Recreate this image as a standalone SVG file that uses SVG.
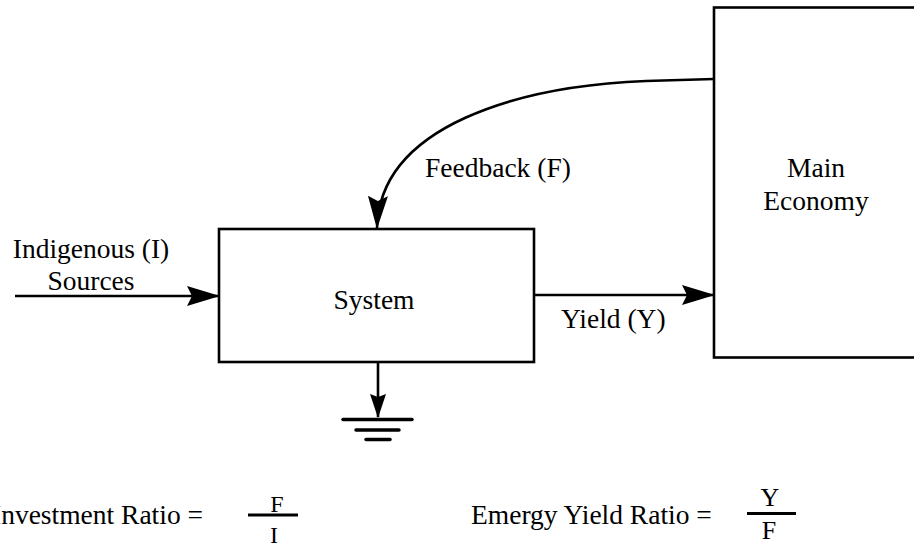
<svg xmlns="http://www.w3.org/2000/svg" width="914" height="546" viewBox="0 0 914 546">
<style>
  .box { fill: #fff; stroke: #000; stroke-width: 2.6; }
  .line { fill: none; stroke: #000; stroke-width: 2.6; }
  .lbl { font-family: "Liberation Serif", "Times New Roman", serif; font-size: 27.5px; fill: #000; }
  .mid { text-anchor: middle; }
  .bar { stroke: #000; stroke-width: 3.5; stroke-linecap: round; }
</style>
<defs>
  <marker id="ah" markerUnits="userSpaceOnUse" viewBox="0 0 33 20" markerWidth="33" markerHeight="20" refX="32" refY="10" orient="auto">
    <path d="M0,0 L33,10 L0,20 L5,10 Z" fill="#000"/>
  </marker>
  <marker id="ahs" markerUnits="userSpaceOnUse" viewBox="0 0 24 16" markerWidth="24" markerHeight="16" refX="23" refY="8" orient="auto">
    <path d="M0,0 L24,8 L0,16 L3,8 Z" fill="#000"/>
  </marker>
</defs>

<g id="connectors">
  <path id="c-indigenous" class="line" d="M15,296 L219,296" marker-end="url(#ah)"/>
  <path id="c-yield" class="line" d="M534,295 L714,295" marker-end="url(#ah)"/>
  <path id="c-feedback" class="line" d="M714,79 L646,81 C520,86 380,125 377,228" marker-end="url(#ah)"/>
  <path id="c-sink" class="line" d="M378,362 L378,417" marker-end="url(#ahs)"/>
</g>

<g id="system">
  <rect class="box" x="219" y="229" width="315" height="133"/>
  <text class="lbl mid" x="374" y="309">System</text>
</g>

<g id="main-economy">
  <rect class="box" x="714" y="7.5" width="220" height="350"/>
  <text class="lbl mid" x="816" y="177">Main</text>
  <text class="lbl mid" x="816" y="210">Economy</text>
</g>

<g id="heat-sink">
  <line class="bar" x1="343" y1="419.5" x2="412" y2="419.5"/>
  <line class="bar" x1="356" y1="430" x2="399" y2="430"/>
  <line class="bar" x1="366" y1="439.5" x2="390" y2="439.5"/>
</g>

<g id="labels">
  <text class="lbl mid" x="91" y="258">Indigenous (I)</text>
  <text class="lbl mid" x="91" y="290">Sources</text>
  <text class="lbl" x="425" y="177">Feedback (F)</text>
  <text class="lbl" x="561" y="328">Yield (Y)</text>
</g>

<g id="investment-ratio">
  <text class="lbl" x="-8" y="524">Investment Ratio =</text>
  <line x1="248" y1="515" x2="298" y2="515" stroke="#000" stroke-width="3"/>
  <text class="lbl mid" x="277" y="511.5" style="font-size:24px">F</text>
  <text class="lbl mid" x="274" y="542.5" style="font-size:24px">I</text>
</g>

<g id="emergy-yield-ratio">
  <text class="lbl" x="471" y="524">Emergy Yield Ratio =</text>
  <line x1="747" y1="513.5" x2="796" y2="513.5" stroke="#000" stroke-width="3"/>
  <text class="lbl mid" x="770" y="505.5" style="font-size:26px">Y</text>
  <text class="lbl mid" x="769" y="539" style="font-size:26px">F</text>
</g>
</svg>
